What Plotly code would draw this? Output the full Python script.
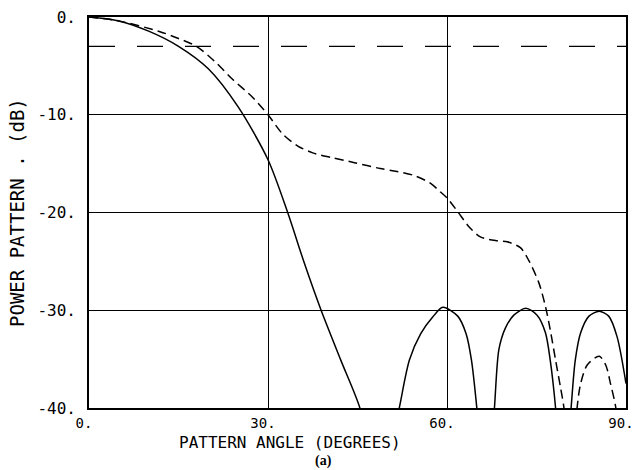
import plotly.graph_objects as go

# ---- data ----
solid_angle = [0, 5, 10, 15, 20, 25, 30, 33.3, 36.1, 38.9, 42.2, 45.4,
               46.8, 48.7, 50.6,
               52, 53.7, 55.6, 57.6, 59.3, 61.8, 63.2, 64.1, 65,
               65.7, 66.5, 67.3,
               67.95, 68.7, 69.8, 71.2, 73.2, 75.1, 76.5, 77.3, 78.2,
               78.8, 79.5, 80.2,
               80.8, 81.5, 82.4, 83.8, 85.5, 87.1, 88.5, 90]
solid_db = [0, -0.4, -1.45, -3.0, -5.3, -9.2, -14.6, -20.0, -25.2, -30.0, -35.1, -40.0,
            -44, -55, -44,
            -40.0, -35.1, -32.4, -30.7, -29.7, -30.6, -32.4, -35.1, -40.0,
            -45, -55, -45,
            -40.0, -34.0, -31.8, -30.5, -29.8, -30.5, -32.3, -35.1, -40.0,
            -45, -55, -45,
            -40.0, -35.1, -32.3, -30.6, -30.1, -30.6, -32.7, -37.5]

dashed_angle = [0, 5, 11.9, 15, 18, 21, 24.1, 27.4, 30, 32.5, 35, 37.5, 40.8, 44.5, 48.8, 51.6, 54.4, 57.2, 58.9, 60,
                61.9, 63.6, 65.6, 68.4, 70.1, 72.3, 73.7, 75.4, 76.5, 77.3, 78.2, 79, 79.6,
                80.3, 81.0, 81.3,
                81.8, 82.4, 83.5, 85.5, 86.6, 87.4, 88.3, 89, 90]
dashed_db = [0, -0.4, -1.5, -2.2, -3.0, -4.5, -6.4, -8.2, -10.0, -12.0, -13.2, -13.9, -14.4, -14.9, -15.5, -15.8, -16.2, -17.0, -17.9, -18.5,
             -20.0, -21.4, -22.5, -22.9, -23.0, -23.6, -24.9, -27.2, -29.6, -32.0, -35.1, -37.8, -40.0,
             -45, -52, -45,
             -40.0, -37.5, -35.6, -34.7, -35.6, -37.5, -40.0, -45, -50]

half_power_db = -3
x_ticks = [0, 30, 60, 90]
x_tick_labels = ["0.", "30.", "60.", "90."]
y_ticks = [0, -10, -20, -30, -40]
y_tick_labels = ["0.", "-10.", "-20.", "-30.", "-40."]

MONO = "DejaVu Sans Mono"

fig = go.Figure()
fig.add_trace(go.Scatter(x=[0, 90], y=[half_power_db, half_power_db], mode="lines",
                         line=dict(color="black", width=1.4, dash="26px,22px"), hoverinfo="skip"))
fig.add_trace(go.Scatter(x=dashed_angle, y=dashed_db, mode="lines",
                         line=dict(color="black", width=1.5, dash="9px,5px", shape="spline", smoothing=0.8)))
fig.add_trace(go.Scatter(x=solid_angle, y=solid_db, mode="lines",
                         line=dict(color="black", width=1.5, shape="spline", smoothing=0.8)))

fig.update_layout(
    width=637, height=470,
    margin=dict(l=89, r=11, t=17, b=62),
    paper_bgcolor="white", plot_bgcolor="white",
    showlegend=False,
    font=dict(family=MONO, color="black", size=15),
)
fig.update_xaxes(range=[0, 90], tickvals=x_ticks, ticktext=x_tick_labels,
                 showgrid=True, gridcolor="black", gridwidth=1.2,
                 showline=True, linecolor="black", linewidth=1.6, mirror=True,
                 zeroline=False, ticks="", ticklabelstandoff=1, ticklabelshift=-5,
                 automargin=False,
                 tickfont=dict(family=MONO, size=14, color="black"))
fig.update_yaxes(range=[-40, 0], tickvals=y_ticks, ticktext=y_tick_labels,
                 showgrid=True, gridcolor="black", gridwidth=1.2,
                 showline=True, linecolor="black", linewidth=1.6, mirror=True,
                 zeroline=False, ticks="", ticklabelstandoff=8,
                 automargin=False,
                 tickfont=dict(family=MONO, size=16, color="black"))

fig.add_annotation(text="PATTERN ANGLE (DEGREES)", xref="paper", yref="paper",
                   x=(290 - 89) / 537, y=(408 - 432) / 391, xanchor="center", yanchor="top",
                   borderpad=0, showarrow=False, font=dict(family=MONO, size=16, color="black"))
fig.add_annotation(text="POWER PATTERN . (dB)", xref="paper", yref="paper",
                   x=(17 - 89) / 537, y=(408 - 213) / 391, xanchor="center", yanchor="middle",
                   textangle=-90, showarrow=False, font=dict(family=MONO, size=19, color="black"))
fig.add_annotation(text="<b>(a)</b>", xref="paper", yref="paper",
                   x=(323 - 89) / 537, y=(408 - 470) / 391, xanchor="center", yanchor="bottom",
                   borderpad=0, showarrow=False, font=dict(family="Liberation Serif", size=14, color="black"))

fig.write_html("out.html")
